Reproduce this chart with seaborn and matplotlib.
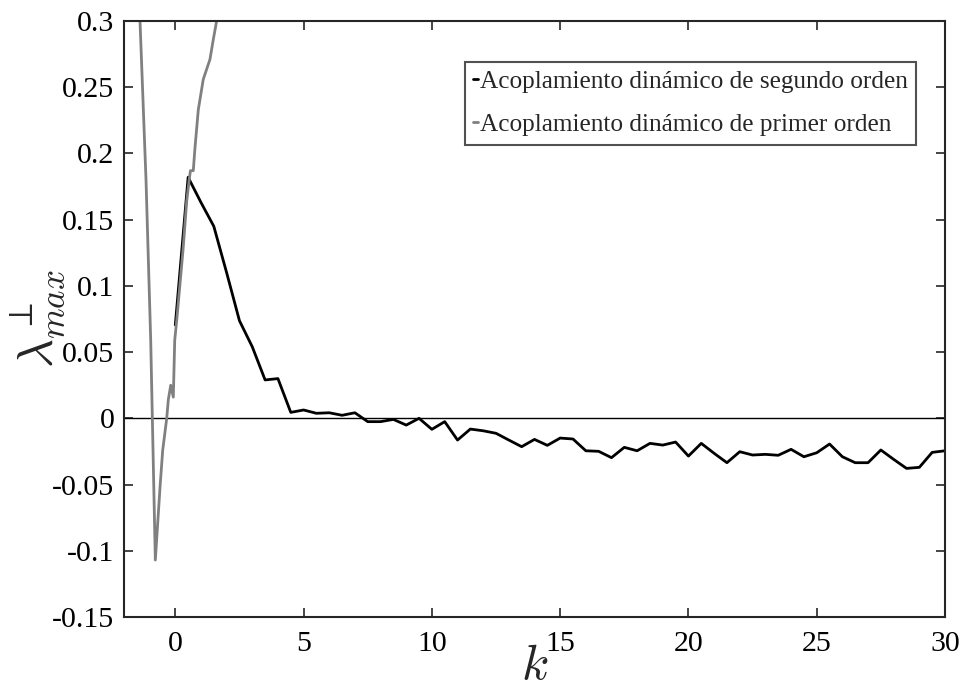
import numpy as np
import pandas as pd
import matplotlib
matplotlib.use("Agg")
import matplotlib.pyplot as plt
import seaborn as sns

# Second-order coupling (black), sampled every 0.5 in k
k_second = [0.0, 0.5, 1.0, 1.5, 2.0, 2.5, 3.0, 3.5, 4.0, 4.5, 5.0, 5.5, 6.0, 6.5, 7.0,
            7.5, 8.0, 8.5, 9.0, 9.5, 10.0, 10.5, 11.0, 11.5, 12.0, 12.5, 13.0, 13.5,
            14.0, 14.5, 15.0, 15.5, 16.0, 16.5, 17.0, 17.5, 18.0, 18.5, 19.0, 19.5,
            20.0, 20.5, 21.0, 21.5, 22.0, 22.5, 23.0, 23.5, 24.0, 24.5, 25.0, 25.5,
            26.0, 26.5, 27.0, 27.5, 28.0, 28.5, 29.0, 29.5, 30.0]
lam_second = [0.0705, 0.182, 0.163, 0.145, 0.110, 0.0737, 0.054, 0.029, 0.030, 0.0045,
              0.0063, 0.0038, 0.0042, 0.0023, 0.0042, -0.0025, -0.0025, -0.0008, -0.0051,
              0.0, -0.0083, -0.0025, -0.0164, -0.0081, -0.0094, -0.0113, -0.0164, -0.0214,
              -0.0159, -0.0204, -0.0149, -0.0156, -0.0245, -0.0249, -0.0297, -0.0219,
              -0.0245, -0.0189, -0.0202, -0.0179, -0.0285, -0.0189, -0.0264, -0.0335,
              -0.0252, -0.0277, -0.0272, -0.0279, -0.0234, -0.0290, -0.0260, -0.0194,
              -0.0290, -0.0335, -0.0335, -0.0239, -0.0310, -0.0378, -0.0370, -0.0257,
              -0.0245]

# First-order coupling (gray)
k_first = [-1.50, -1.376, -1.142, -0.959, -0.779, -0.596, -0.491, -0.335, -0.273, -0.179,
           -0.078, -0.023, 0.055, 0.30, 0.444, 0.546, 0.59, 0.70, 0.77, 0.896, 1.09,
           1.35, 1.48, 1.61, 1.72]
lam_first = [0.37, 0.300, 0.180, 0.059, -0.107, -0.052, -0.024, 0.0, 0.014, 0.025,
             0.016, 0.059, 0.074, 0.127, 0.164, 0.181, 0.187, 0.187, 0.205, 0.233, 0.256,
             0.271, 0.286, 0.300, 0.32]

label_second = "Acoplamiento dinámico de segundo orden"
label_first = "Acoplamiento dinámico de primer orden"

x_ticks = [0, 5, 10, 15, 20, 25, 30]
y_ticks = [-0.15, -0.1, -0.05, 0, 0.05, 0.1, 0.15, 0.2, 0.25, 0.3]
y_ticklabels = ["-0.15", "-0.1", "-0.05", "0", "0.05", "0.1", "0.15", "0.2", "0.25", "0.3"]

sns.set_style("ticks")
plt.rcParams["font.family"] = ["Liberation Serif", "DejaVu Serif"]
plt.rcParams["mathtext.fontset"] = "cm"

fig = plt.figure(figsize=(9.64, 6.94), dpi=100)
ax = fig.add_axes([124 / 964, 1 - 617 / 694, 821 / 964, 596 / 694])

df2 = pd.DataFrame({"k": k_second, "lam": lam_second})
df1 = pd.DataFrame({"k": k_first, "lam": lam_first})

ax.axhline(0, color="black", lw=1.0, zorder=1)
sns.lineplot(data=df2, x="k", y="lam", ax=ax, color="black", lw=2.0,
             label=label_second, sort=False, estimator=None)
sns.lineplot(data=df1, x="k", y="lam", ax=ax, color="#808080", lw=2.0,
             label=label_first, sort=False, estimator=None)

ax.set_xlim(-2, 30)
ax.set_ylim(-0.15, 0.3)
ax.set_xticks(x_ticks)
ax.set_xticklabels([str(t) for t in x_ticks])
ax.set_yticks(y_ticks)
ax.set_yticklabels(y_ticklabels)
ax.tick_params(direction="in", top=True, right=True, length=6.5, width=1.2,
               labelsize=21.5, colors="#262626", labelcolor="black")
ax.tick_params(axis="x", pad=10)
ax.tick_params(axis="y", pad=7)
for s in ax.spines.values():
    s.set_visible(True)
    s.set_linewidth(1.5)
    s.set_color("#262626")

ax.set_xlabel(r"$k$", fontsize=36, labelpad=-10)
ax.set_ylabel(r"$\lambda^{\perp}_{max}$", fontsize=36, va="center")
ax.yaxis.set_label_coords(-0.105, 0.5)

leg = ax.legend(loc="upper right", bbox_to_anchor=(916 / 964, 1 - 62 / 694),
                bbox_transform=fig.transFigure, fontsize=18.2, frameon=True,
                fancybox=False, edgecolor="#262626", handlelength=0.2,
                handletextpad=0.05, borderpad=0.34, labelspacing=0.8,
                borderaxespad=0)
leg.get_frame().set_linewidth(1.5)

fig.savefig("out.png", dpi=100, facecolor="white")
